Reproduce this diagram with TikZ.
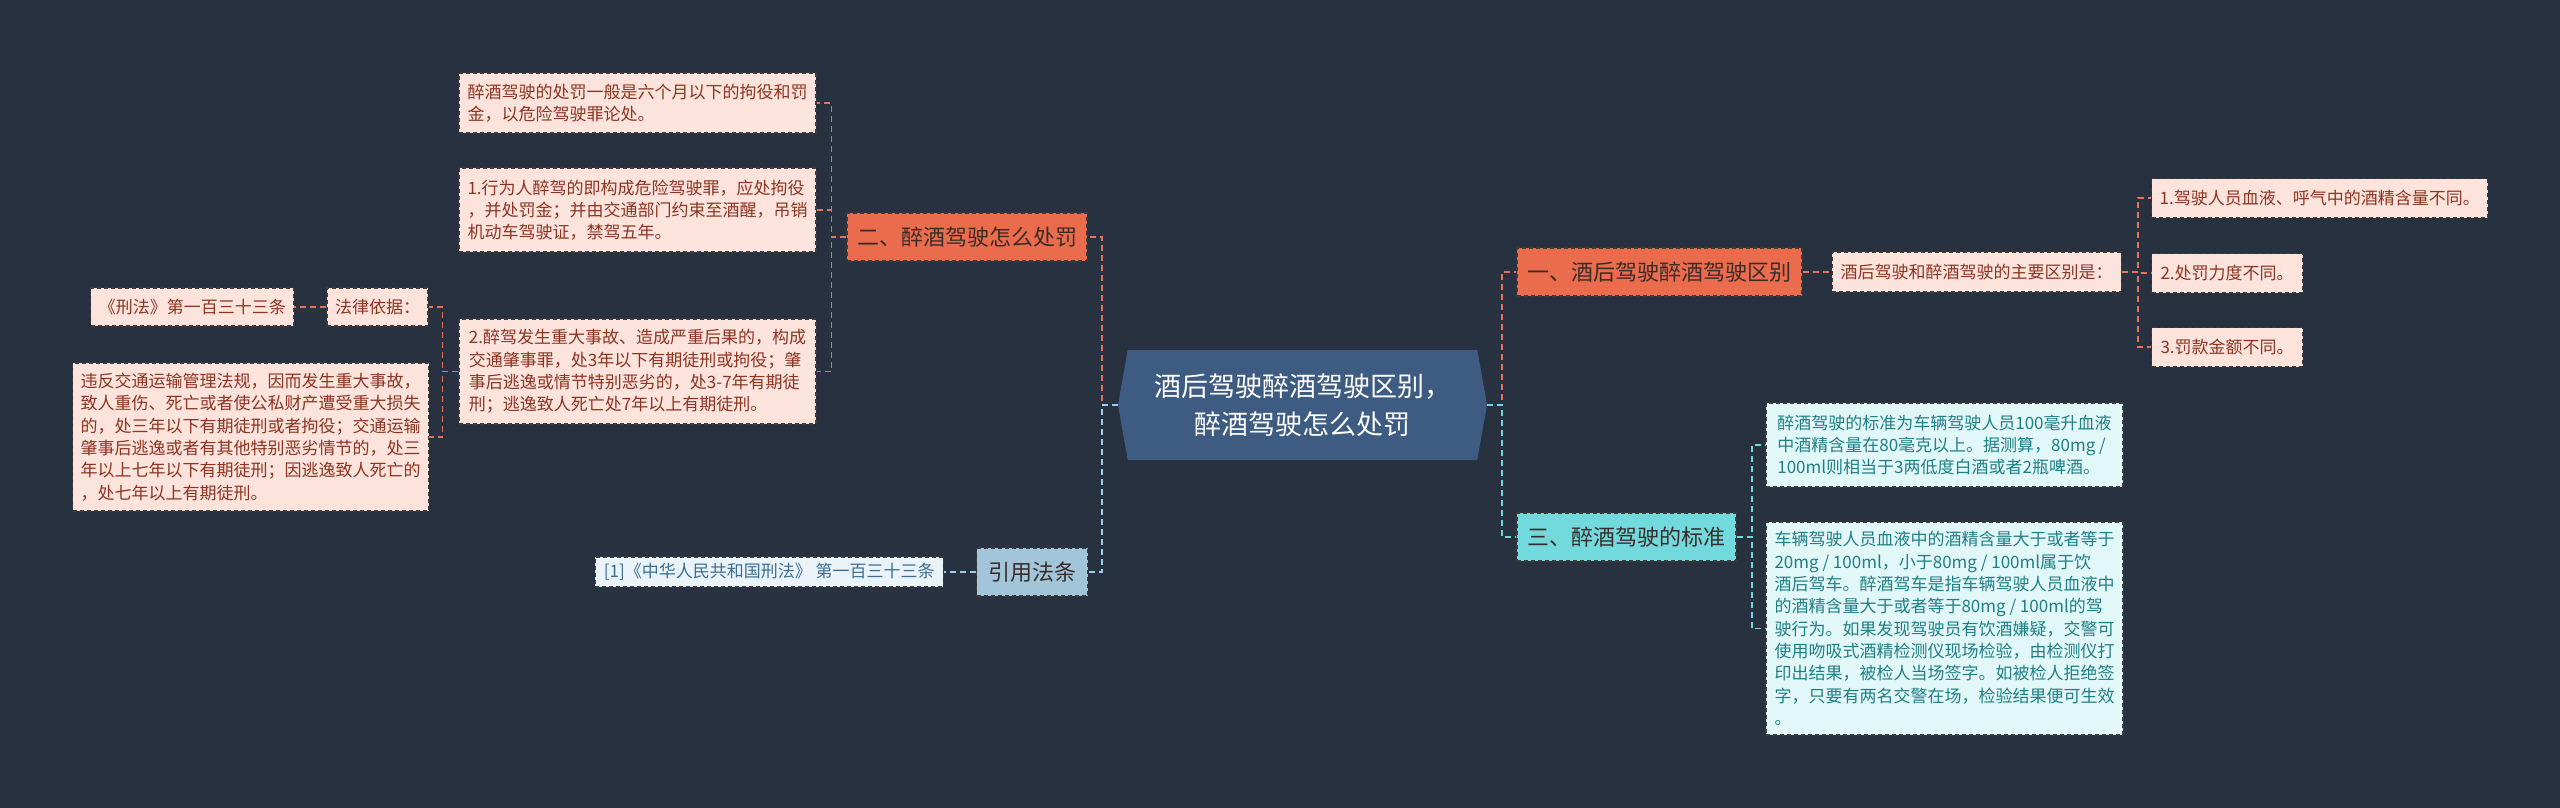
\documentclass[tikz,border=0pt]{standalone}
\usepackage{fontspec}
\setmainfont{Noto Sans CJK SC}
\usetikzlibrary{positioning,shapes.symbols}
\usepackage{xcolor}
\definecolor{bg}{HTML}{283140}
\definecolor{rootblue}{HTML}{3E5B82}
\definecolor{edgegray}{HTML}{3A3A3A}
\definecolor{orangefill}{HTML}{EB6C4D}
\definecolor{orangeline}{HTML}{E67259}
\definecolor{topictext}{HTML}{3A2C2A}
\definecolor{redleaf}{HTML}{FCE3DC}
\definecolor{redtext}{HTML}{8E3422}
\definecolor{citefill}{HTML}{A3C5DA}
\definecolor{citeleaf}{HTML}{EAF3F8}
\definecolor{citetext}{HTML}{3B6E93}
\definecolor{citeline}{HTML}{9CCFE6}
\definecolor{cyanfill}{HTML}{72D9DD}
\definecolor{cyanleaf}{HTML}{E2F8F8}
\definecolor{cyantext}{HTML}{1F7F86}
\definecolor{cyanline}{HTML}{6FD8DD}

\begin{document}
\begin{tikzpicture}[
    x=1pt, y=-1pt,
    root/.style={signal, signal to=west and east, signal pointer angle=160, fill=rootblue, text=white, minimum width=369pt, minimum height=110pt, align=center, font=\fontsize{27}{38}\selectfont},
    topic/.style={draw=edgegray, dash pattern=on 4pt off 3pt, line width=1.2pt, text=topictext, minimum height=48pt, font=\fontsize{22}{26}\selectfont},
    leaf/.style={draw=edgegray, dash pattern=on 4pt off 3pt, line width=1.2pt, fill=redleaf, text=redtext, align=left, inner xsep=8pt, inner ysep=4pt, minimum height=39pt, font=\fontsize{17}{22.3}\selectfont},
    citeleaf/.style={leaf, fill=citeleaf, text=citetext, minimum height=30pt},
    stdleaf/.style={leaf, fill=cyanleaf, text=cyantext},
    link/.style={line width=1.8pt, dash pattern=on 6pt off 4pt}
]
\fill[bg] (0,0) rectangle (2560,808);
\useasboundingbox (0,0) rectangle (2560,808);

\node (root) [root] at (1302.5,405) {酒后驾驶醉酒驾驶区别，\\醉酒驾驶怎么处罚};

\node (punish) [topic, fill=orangefill, minimum width=240pt] at (967,237) {二、醉酒驾驶怎么处罚};
\node (p1) [leaf, minimum width=357pt, minimum height=60pt] at (637.5,103) {醉酒驾驶的处罚一般是六个月以下的拘役和罚\\金，以危险驾驶罪论处。};
\node (p2) [leaf, minimum width=357pt, minimum height=84pt] at (637.5,210) {1.行为人醉驾的即构成危险驾驶罪，应处拘役\\，并处罚金；并由交通部门约束至酒醒，吊销\\机动车驾驶证，禁驾五年。};
\node (p3) [leaf, minimum width=357pt, minimum height=105pt] at (637.5,371.5) {2.醉驾发生重大事故、造成严重后果的，构成\\交通肇事罪，处3年以下有期徒刑或拘役；肇\\事后逃逸或情节特别恶劣的，处3-7年有期徒\\刑；逃逸致人死亡处7年以上有期徒刑。};
\node (basis) [leaf, minimum width=101pt, minimum height=38pt] at (377.5,307) {法律依据：};
\node (xingfa) [leaf, minimum width=203pt, minimum height=38pt, left=32pt of basis] {《刑法》第一百三十三条};
\node (law) [leaf, minimum width=355pt, minimum height=148pt] at (250.5,437) {违反交通运输管理法规，因而发生重大事故，\\致人重伤、死亡或者使公私财产遭受重大损失\\的，处三年以下有期徒刑或者拘役；交通运输\\肇事后逃逸或者有其他特别恶劣情节的，处三\\年以上七年以下有期徒刑；因逃逸致人死亡的\\，处七年以上有期徒刑。};

\node (cite) [topic, fill=citefill, text=topictext, minimum width=111pt] at (1032,572) {引用法条};
\node (ref) [citeleaf, minimum width=348pt, left=32pt of cite] {[1]《中华人民共和国刑法》 第一百三十三条};

\node (diff) [topic, fill=orangefill, minimum width=285pt] at (1659.5,272) {一、酒后驾驶醉酒驾驶区别};
\node (main) [leaf, minimum width=289pt, minimum height=40pt, right=29pt of diff] {酒后驾驶和醉酒驾驶的主要区别是：};
\node (d1) [leaf, anchor=west] at (2151,198) {1.驾驶人员血液、呼气中的酒精含量不同。};
\node (d2) [leaf, anchor=west, minimum width=151pt] at (2151,273) {2.处罚力度不同。};
\node (d3) [leaf, anchor=west, minimum width=151pt] at (2151,347) {3.罚款金额不同。};

\node (std) [topic, fill=cyanfill, minimum width=219pt] at (1626.5,537) {三、醉酒驾驶的标准};
\node (s1) [stdleaf, minimum width=357pt, minimum height=84pt] at (1944.5,445) {醉酒驾驶的标准为车辆驾驶人员100毫升血液\\中酒精含量在80毫克以上。据测算，80mg /\\100ml则相当于3两低度白酒或者2瓶啤酒。};
\node (s2) [stdleaf, minimum width=357pt, minimum height=213pt] at (1944.5,628.5) {车辆驾驶人员血液中的酒精含量大于或者等于\\20mg / 100ml，小于80mg / 100ml属于饮\\酒后驾车。醉酒驾车是指车辆驾驶人员血液中\\的酒精含量大于或者等于80mg / 100ml的驾\\驶行为。如果发现驾驶员有饮酒嫌疑，交警可\\使用吻吸式酒精检测仪现场检验，由检测仪打\\印出结果，被检人当场签字。如被检人拒绝签\\字，只要有两名交警在场，检验结果便可生效\\。};

\draw [link, orangeline] (root.west) -- ++(-16,0) |- (punish.east);
\draw [link, citeline] (root.west) -- ++(-16,0) |- (cite.east);
\draw [link, orangeline] (punish.west) -- ++(-15,0) |- (p1.east);
\draw [link, orangeline] (punish.west) -- ++(-15,0) |- (p2.east);
\draw [link, orangeline] (punish.west) -- ++(-15,0) |- (p3.east);
\draw [link, orangeline] (p3.west) -- ++(-16,0) |- (basis.east);
\draw [link, orangeline] (p3.west) -- ++(-16,0) |- (law.east);
\draw [link, orangeline] (basis) -- (xingfa);
\draw [link, citeline] (cite) -- (ref);

\draw [link, orangeline] (root.east) -- ++(15,0) |- (diff.west);
\draw [link, cyanline] (root.east) -- ++(15,0) |- (std.west);
\draw [link, orangeline] (diff) -- (main);
\draw [link, orangeline] (main.east) -- ++(16,0) |- (d1.west);
\draw [link, orangeline] (main.east) -- ++(16,0) |- (d2.west);
\draw [link, orangeline] (main.east) -- ++(16,0) |- (d3.west);
\draw [link, cyanline] (std.east) -- ++(15,0) |- (s1.west);
\draw [link, cyanline] (std.east) -- ++(15,0) |- (s2.west);
\end{tikzpicture}
\end{document}
